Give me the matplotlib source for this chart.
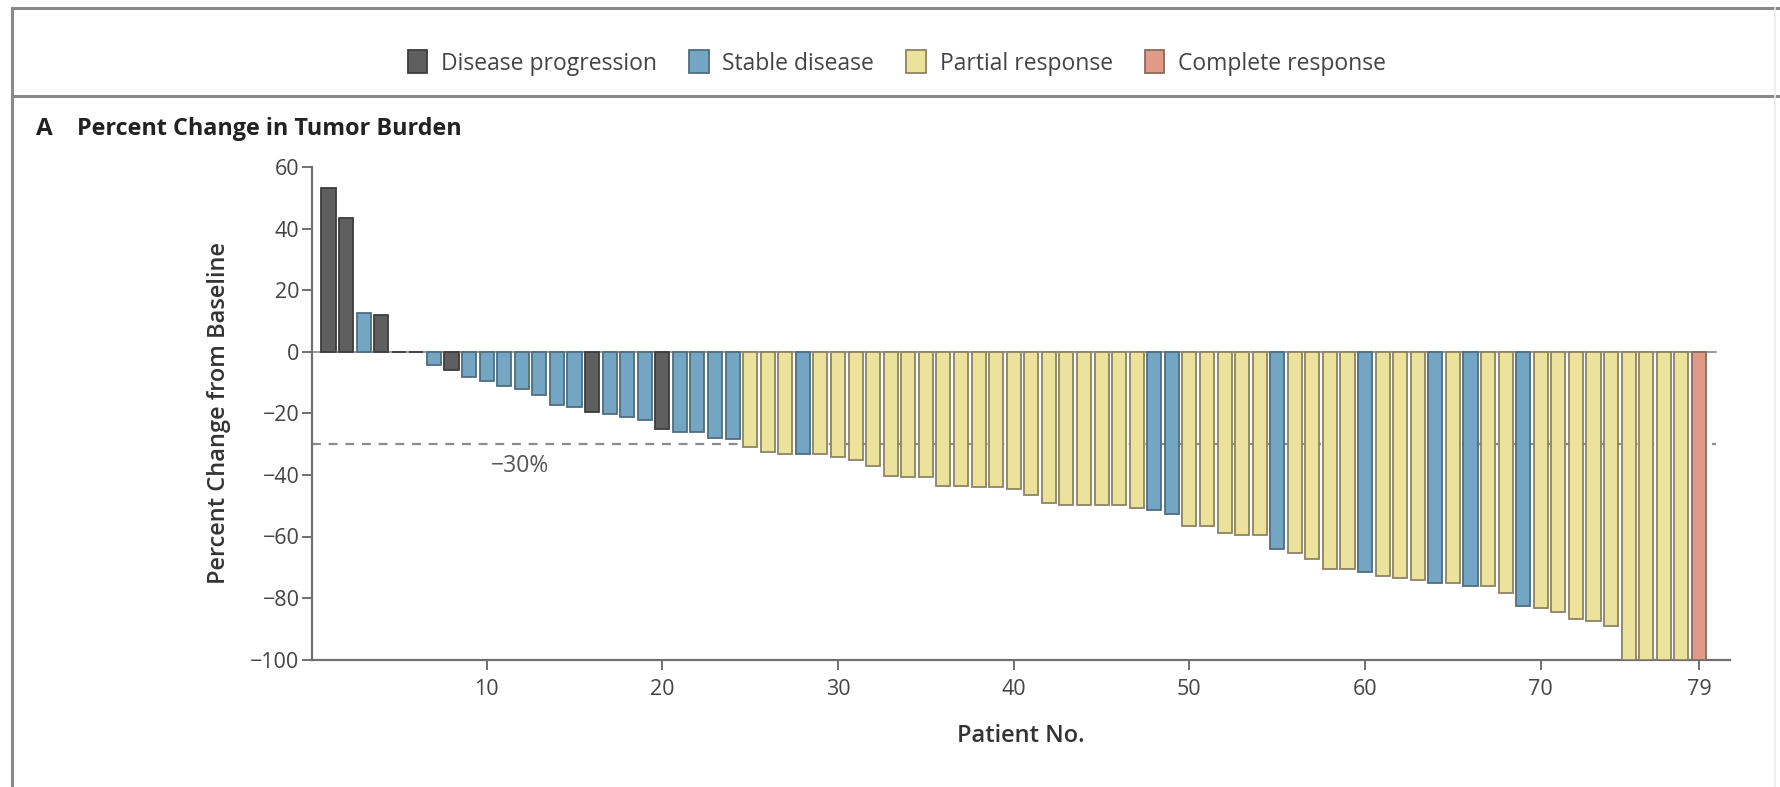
import matplotlib
matplotlib.use("Agg")
import matplotlib.pyplot as plt
from matplotlib.patches import Patch
from matplotlib.lines import Line2D

plt.rcParams['font.family'] = ['Open Sans', 'DejaVu Sans']

# ---- data ----
patients = list(range(1, 80))
pct_change = [53.3, 43.7, 12.6, 12.0, 0.0, 0.0, -4.3, -6.0, -8.0, -9.3,
              -11.2, -12.0, -14.1, -17.3, -17.9, -19.5, -20.1, -21.3, -22.2, -25.1,
              -25.9, -25.9, -28.0, -28.3, -30.8, -32.4, -33.1, -33.1, -33.1, -34.3,
              -35.2, -37.2, -40.2, -40.5, -40.5, -43.5, -43.5, -43.8, -43.8, -44.4,
              -46.4, -49.1, -49.7, -49.9, -49.9, -49.9, -50.8, -51.3, -52.6, -56.6,
              -56.6, -59.0, -59.5, -59.5, -64.2, -65.3, -67.3, -70.5, -70.5, -71.4,
              -72.9, -73.6, -74.3, -75.1, -75.1, -76.2, -76.2, -78.3, -82.7, -83.2,
              -84.5, -86.7, -87.4, -89.1, -100.0, -100.0, -100.0, -100.0, -100.0]
response = ['D', 'D', 'S', 'D', 'D', 'D', 'S', 'D', 'S', 'S',
            'S', 'S', 'S', 'S', 'S', 'D', 'S', 'S', 'S', 'D',
            'S', 'S', 'S', 'S', 'P', 'P', 'P', 'S', 'P', 'P',
            'P', 'P', 'P', 'P', 'P', 'P', 'P', 'P', 'P', 'P',
            'P', 'P', 'P', 'P', 'P', 'P', 'P', 'S', 'S', 'P',
            'P', 'P', 'P', 'P', 'S', 'P', 'P', 'P', 'P', 'S',
            'P', 'P', 'P', 'S', 'P', 'S', 'P', 'P', 'S', 'P',
            'P', 'P', 'P', 'P', 'P', 'P', 'P', 'P', 'C']
categories = ['D', 'S', 'P', 'C']
category_labels = ['Disease progression', 'Stable disease', 'Partial response', 'Complete response']
x_ticks = [10, 20, 30, 40, 50, 60, 70, 79]
y_ticks = [60, 40, 20, 0, -20, -40, -60, -80, -100]
threshold = -30

fill = {'D': '#5f5f5f', 'S': '#74a6c3', 'P': '#ebe39b', 'C': '#df9a88'}
edge = {'D': '#3d3d3d', 'S': '#4d6e80', 'P': '#8d8463', 'C': '#8a6b5f'}

fig = plt.figure(figsize=(17.8, 7.87), dpi=100)
W, H = 1780, 787
ax = fig.add_axes([312 / W, 1 - 659.5 / H, (1730 - 312) / W, (659.5 - 167.5) / H])

ax.bar(patients, pct_change, width=0.8,
       color=[fill[r] for r in response],
       edgecolor=[edge[r] for r in response], linewidth=1.3, zorder=3)

ax.set_xlim(0.06, 80.77)
ax.set_ylim(-100, 60)

# reference lines
ax.plot([0.06, 80.0], [0, 0], color='#8a8a8a', lw=1.2, zorder=2)
ax.plot([0.06, 80.0], [threshold, threshold], color='#8c8c8c', lw=1.6,
        linestyle=(0, (4, 3.5)), zorder=1)
ax.text(11.9, -37.0, '\u221230%', fontsize=16.5, color='#555555', ha='center', va='center')

for s in ['top', 'right']:
    ax.spines[s].set_visible(False)
for s in ['left', 'bottom']:
    ax.spines[s].set_color('#707070')
    ax.spines[s].set_linewidth(1.6)

ax.set_yticks(y_ticks)
ax.set_yticklabels([('\u2212' + str(-v)) if v < 0 else str(v) for v in y_ticks])
ax.set_xticks(x_ticks)
ax.set_xticklabels([str(v) for v in x_ticks])
ax.tick_params(axis='both', direction='out', length=7, width=1.4, color='#707070',
               labelsize=15.5, labelcolor='#444444')
ax.tick_params(axis='x', pad=7)
ax.tick_params(axis='y', pad=2)

ax.set_ylabel('Percent Change from Baseline', fontsize=17, fontweight='semibold',
              color='#333333', labelpad=14)
ax.set_xlabel('Patient No.', fontsize=17, fontweight='semibold', color='#333333', labelpad=17)

# title
fig.text(36 / W, 1 - 129 / H, 'A', fontsize=17.5, fontweight='bold', color='#222222',
         ha='left', va='center')
fig.text(77 / W, 1 - 129 / H, 'Percent Change in Tumor Burden', fontsize=16.8,
         fontweight='bold', color='#222222', ha='left', va='center')

# legend
handles = [Patch(facecolor=fill[c], edgecolor=edge[c], linewidth=1.3) for c in categories]
leg = fig.legend(handles, category_labels, loc='center', bbox_to_anchor=(897 / W, 1 - 63 / H),
                 ncol=4, frameon=False, fontsize=16.5, handlelength=0.85, handleheight=1.15,
                 handletextpad=0.6, columnspacing=1.4)
for t in leg.get_texts():
    t.set_color('#444444')

# frame lines
fig.add_artist(Line2D([12 / W, 1.0], [1 - 8 / H, 1 - 8 / H], color='#8a8a8a', lw=2.2,
                      transform=fig.transFigure))
fig.add_artist(Line2D([12 / W, 1.0], [1 - 96 / H, 1 - 96 / H], color='#8a8a8a', lw=2.2,
                      transform=fig.transFigure))
fig.add_artist(Line2D([12 / W, 12 / W], [1 - 8 / H, 0.0], color='#8a8a8a', lw=2.2,
                      transform=fig.transFigure))
fig.add_artist(Line2D([1775 / W, 1775 / W], [1 - 8 / H, 0.0], color='#ececec', lw=1.2,
                      transform=fig.transFigure))

fig.savefig('out.png', dpi=100)
